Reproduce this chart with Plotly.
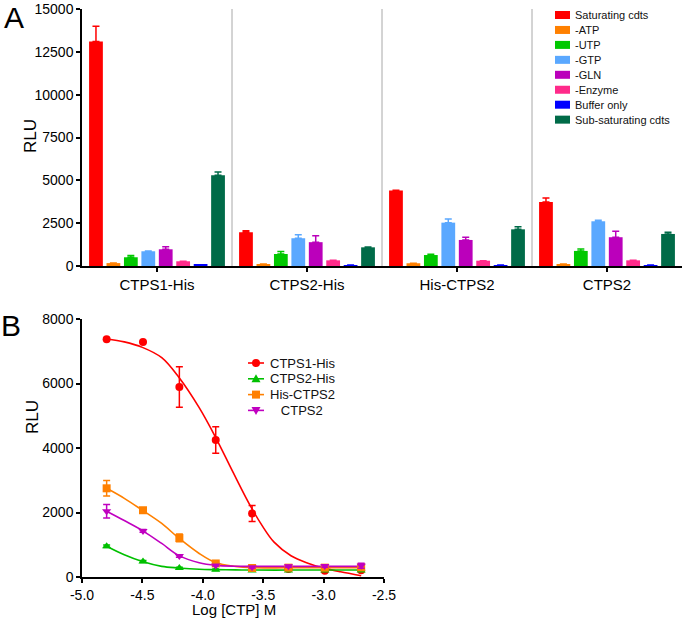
import plotly.graph_objects as go

W, H = 684, 620
FONT = "Liberation Sans, Arial, Helvetica, sans-serif"

# ---------------- Panel A data ----------------
groups = ["CTPS1-His", "CTPS2-His", "His-CTPS2", "CTPS2"]
conditions = ["Saturating cdts", "-ATP", "-UTP", "-GTP", "-GLN", "-Enzyme",
              "Buffer only", "Sub-saturating cdts"]
colors_a = ["#FF0000", "#FF8000", "#00C800", "#5AA8FF", "#BB00BB", "#FF2A8A",
            "#0000FF", "#006B48"]

saturating = [13100, 1970, 4400, 3740]
minus_atp = [170, 110, 160, 110]
minus_utp = [510, 700, 640, 880]
minus_gtp = [860, 1620, 2530, 2610]
minus_gln = [975, 1390, 1520, 1680]
minus_enzyme = [275, 330, 310, 330]
buffer_only = [70, 55, 55, 55]
sub_saturating = [5300, 1090, 2140, 1870]

saturating_err = [900, 90, 20, 230]
minus_atp_err = [0, 0, 0, 0]
minus_utp_err = [110, 150, 40, 115]
minus_gtp_err = [20, 200, 210, 60]
minus_gln_err = [150, 380, 160, 350]
minus_enzyme_err = [0, 0, 0, 0]
buffer_only_err = [0, 0, 0, 0]
sub_saturating_err = [190, 20, 150, 100]

values_a = [saturating, minus_atp, minus_utp, minus_gtp, minus_gln,
            minus_enzyme, buffer_only, sub_saturating]
errors_a = [saturating_err, minus_atp_err, minus_utp_err, minus_gtp_err,
            minus_gln_err, minus_enzyme_err, buffer_only_err, sub_saturating_err]
yticks_a = [0, 2500, 5000, 7500, 10000, 12500, 15000]

# ---------------- Panel B data ----------------
log_ctp = [-4.796, -4.495, -4.194, -3.893, -3.592, -3.291, -2.990, -2.689]
ctps1_his = [7370, 7290, 5890, 4250, 1970, 250, 190, 210]
ctps1_his_err = [0, 0, 630, 410, 250, 30, 20, 20]
ctps2_his = [955, 480, 280, 225, 200, 200, 200, 200]
ctps2_his_err = [40, 30, 20, 20, 20, 20, 20, 20]
his_ctps2 = [2750, 2070, 1210, 420, 280, 290, 290, 300]
his_ctps2_err = [240, 60, 120, 40, 50, 40, 40, 60]
ctps2 = [2040, 1430, 650, 360, 300, 330, 340, 350]
ctps2_err = [210, 40, 40, 20, 20, 30, 40, 80]

# fitted curves
fit_x_red = [-4.796, -4.65, -4.5, -4.34, -4.2, -4.03, -3.89, -3.75, -3.62,
             -3.51, -3.41, -3.27, -3.13, -2.98, -2.86, -2.689]
fit_ctps1_his = [7380, 7290, 7120, 6800, 6200, 5250, 4300, 3250, 2300,
                 1600, 1080, 660, 430, 260, 160, 40]
fit_x = [-4.796, -4.65, -4.5, -4.34, -4.2, -4.03, -3.89, -3.73, -3.59,
         -3.3, -3.0, -2.689]
fit_ctps2_his = [955, 690, 480, 330, 280, 240, 228, 220, 215, 215, 215, 215]
fit_his_ctps2 = [2750, 2440, 2070, 1660, 1210, 730, 440, 330, 290, 285, 285, 285]
fit_ctps2 = [2040, 1750, 1440, 1040, 670, 440, 360, 335, 330, 330, 330, 330]

series_b = ["CTPS1-His", "CTPS2-His", "His-CTPS2", "CTPS2"]
legend_b_text = ["CTPS1-His", "CTPS2-His", "His-CTPS2", "\u00a0\u00a0\u00a0CTPS2"]
colors_b = ["#FF0000", "#00C000", "#FF8000", "#C000C0"]
symbols_b = ["circle", "triangle-up", "square", "triangle-down"]
points_b = [ctps1_his, ctps2_his, his_ctps2, ctps2]
errs_b = [ctps1_his_err, ctps2_his_err, his_ctps2_err, ctps2_err]
fits_b = [(fit_x_red, fit_ctps1_his), (fit_x, fit_ctps2_his),
          (fit_x, fit_his_ctps2), (fit_x, fit_ctps2)]
xticks_b = [-5.0, -4.5, -4.0, -3.5, -3.0, -2.5]
xticktext_b = ["-5.0", "-4.5", "-4.0", "-3.5", "-3.0", "-2.5"]
yticks_b = [0, 2000, 4000, 6000, 8000]


def px(x):
    return x / W


def py(y):
    return 1 - y / H


fig = go.Figure()

# Panel A bars
for name, vals, errs, col in zip(conditions, values_a, errors_a, colors_a):
    fig.add_trace(go.Bar(
        x=groups, y=vals, name=name, marker=dict(color=col, line=dict(width=0)),
        error_y=dict(type="data", array=errs, arrayminus=[0] * len(errs),
                     symmetric=False, color=col, thickness=1.5, width=3.5),
        showlegend=False, xaxis="x", yaxis="y"))

# Panel B fits and points
for name, col, sym, pts, errs, (fx, fy) in zip(series_b, colors_b, symbols_b,
                                               points_b, errs_b, fits_b):
    fig.add_trace(go.Scatter(
        x=fx, y=fy, mode="lines", line=dict(color=col, width=1.6, shape="spline"),
        showlegend=False, xaxis="x2", yaxis="y2", hoverinfo="skip"))
for name, col, sym, pts, errs in zip(series_b, colors_b, symbols_b, points_b, errs_b):
    fig.add_trace(go.Scatter(
        x=log_ctp, y=pts, mode="markers", name=name,
        marker=dict(color=col, symbol=sym, size=8, line=dict(width=0)),
        error_y=dict(type="data", array=errs, color=col, thickness=1.5, width=3.5),
        showlegend=False, xaxis="x2", yaxis="y2"))

shapes = []
annotations = []

# category separators in panel A
for i in range(len(groups) - 1):
    shapes.append(dict(type="line", xref="x", yref="y", x0=i + 0.5, x1=i + 0.5,
                       y0=0, y1=15000, line=dict(color="#A8A8A8", width=1),
                       layer="below"))

# Panel A legend (manual, compact rows)
for i, (name, col) in enumerate(zip(conditions, colors_a)):
    yc = 15 + i * 14.95
    shapes.append(dict(type="rect", xref="paper", yref="paper",
                       x0=px(555), x1=px(570), y0=py(yc + 4), y1=py(yc - 4),
                       fillcolor=col, line=dict(width=0)))
    annotations.append(dict(text=name, xref="paper", yref="paper", x=px(573),
                            y=py(yc), xanchor="left", yanchor="middle",
                            showarrow=False, font=dict(size=11, color="#111")))

# Panel B legend (manual)
for i, (name, col, sym) in enumerate(zip(legend_b_text, colors_b, symbols_b)):
    yc = 363 + i * 15.8
    shapes.append(dict(type="line", xref="paper", yref="paper",
                       x0=px(248), x1=px(264), y0=py(yc), y1=py(yc),
                       line=dict(color=col, width=1.6)))
    common = dict(xref="paper", yref="paper", xsizemode="pixel", ysizemode="pixel",
                  xanchor=px(256), yanchor=py(yc), fillcolor=col, line=dict(width=0))
    if sym == "circle":
        shapes.append(dict(type="circle", x0=-4, x1=4, y0=-4, y1=4, **common))
    elif sym == "square":
        shapes.append(dict(type="rect", x0=-4, x1=4, y0=-4, y1=4, **common))
    elif sym == "triangle-up":
        shapes.append(dict(type="path", path="M -4.5,-3.5 L 4.5,-3.5 L 0,4.5 Z", **common))
    else:
        shapes.append(dict(type="path", path="M -4.5,3.5 L 4.5,3.5 L 0,-4.5 Z", **common))
    annotations.append(dict(text=name, xref="paper", yref="paper", x=px(268),
                            y=py(yc), xanchor="left", yanchor="middle",
                            showarrow=False, font=dict(size=13, color="#111")))

# Panel letters
annotations.append(dict(text="A", xref="paper", yref="paper", x=px(2), y=py(-1),
                        xanchor="left", yanchor="top", showarrow=False,
                        font=dict(size=30, color="black")))
annotations.append(dict(text="B", xref="paper", yref="paper", x=px(-1), y=py(307),
                        xanchor="left", yanchor="top", showarrow=False,
                        font=dict(size=30, color="black")))

# Axis titles
annotations.append(dict(text="RLU", xref="paper", yref="paper", x=px(30), y=py(136),
                        xanchor="center", yanchor="middle", textangle=-90,
                        showarrow=False, font=dict(size=17, color="black")))
annotations.append(dict(text="RLU", xref="paper", yref="paper", x=px(32), y=py(417),
                        xanchor="center", yanchor="middle", textangle=-90,
                        showarrow=False, font=dict(size=17, color="black")))
annotations.append(dict(text="Log [CTP] M", xref="paper", yref="paper", x=px(234),
                        y=py(609), xanchor="center", yanchor="middle",
                        showarrow=False, font=dict(size=15, color="black")))

axis_common = dict(showline=True, linecolor="black", linewidth=1.5, ticks="outside",
                   ticklen=4, tickwidth=1.5, tickcolor="black", showgrid=False,
                   zeroline=False, automargin=False)

fig.update_layout(
    width=W, height=H, margin=dict(l=0, r=0, t=0, b=0),
    paper_bgcolor="white", plot_bgcolor="white",
    font=dict(family=FONT, color="black"),
    barmode="group", bargap=0.07, bargroupgap=0.21,
    showlegend=False,
    xaxis=dict(domain=[px(82), px(682)], anchor="y", type="category",
               range=[-0.5, len(groups) - 0.5], tickfont=dict(size=15),
               **axis_common),
    yaxis=dict(domain=[py(266), py(9)], anchor="x", range=[0, 15000],
               tickvals=yticks_a, tickformat="d", tickfont=dict(size=14),
               **axis_common),
    xaxis2=dict(domain=[px(82), px(384)], anchor="y2", range=[-5, -2.5],
                tickvals=xticks_b, ticktext=xticktext_b, tickfont=dict(size=14),
                **axis_common),
    yaxis2=dict(domain=[py(577), py(319)], anchor="x2", range=[0, 8000],
                tickvals=yticks_b, tickformat="d", tickfont=dict(size=14),
                **axis_common),
    shapes=shapes, annotations=annotations,
)

fig.write_html(
    "out.html",
    config={"displayModeBar": False},
    post_script="document.body.style.margin='0';document.body.style.padding='0';"
                "document.body.style.overflow='hidden';",
)
